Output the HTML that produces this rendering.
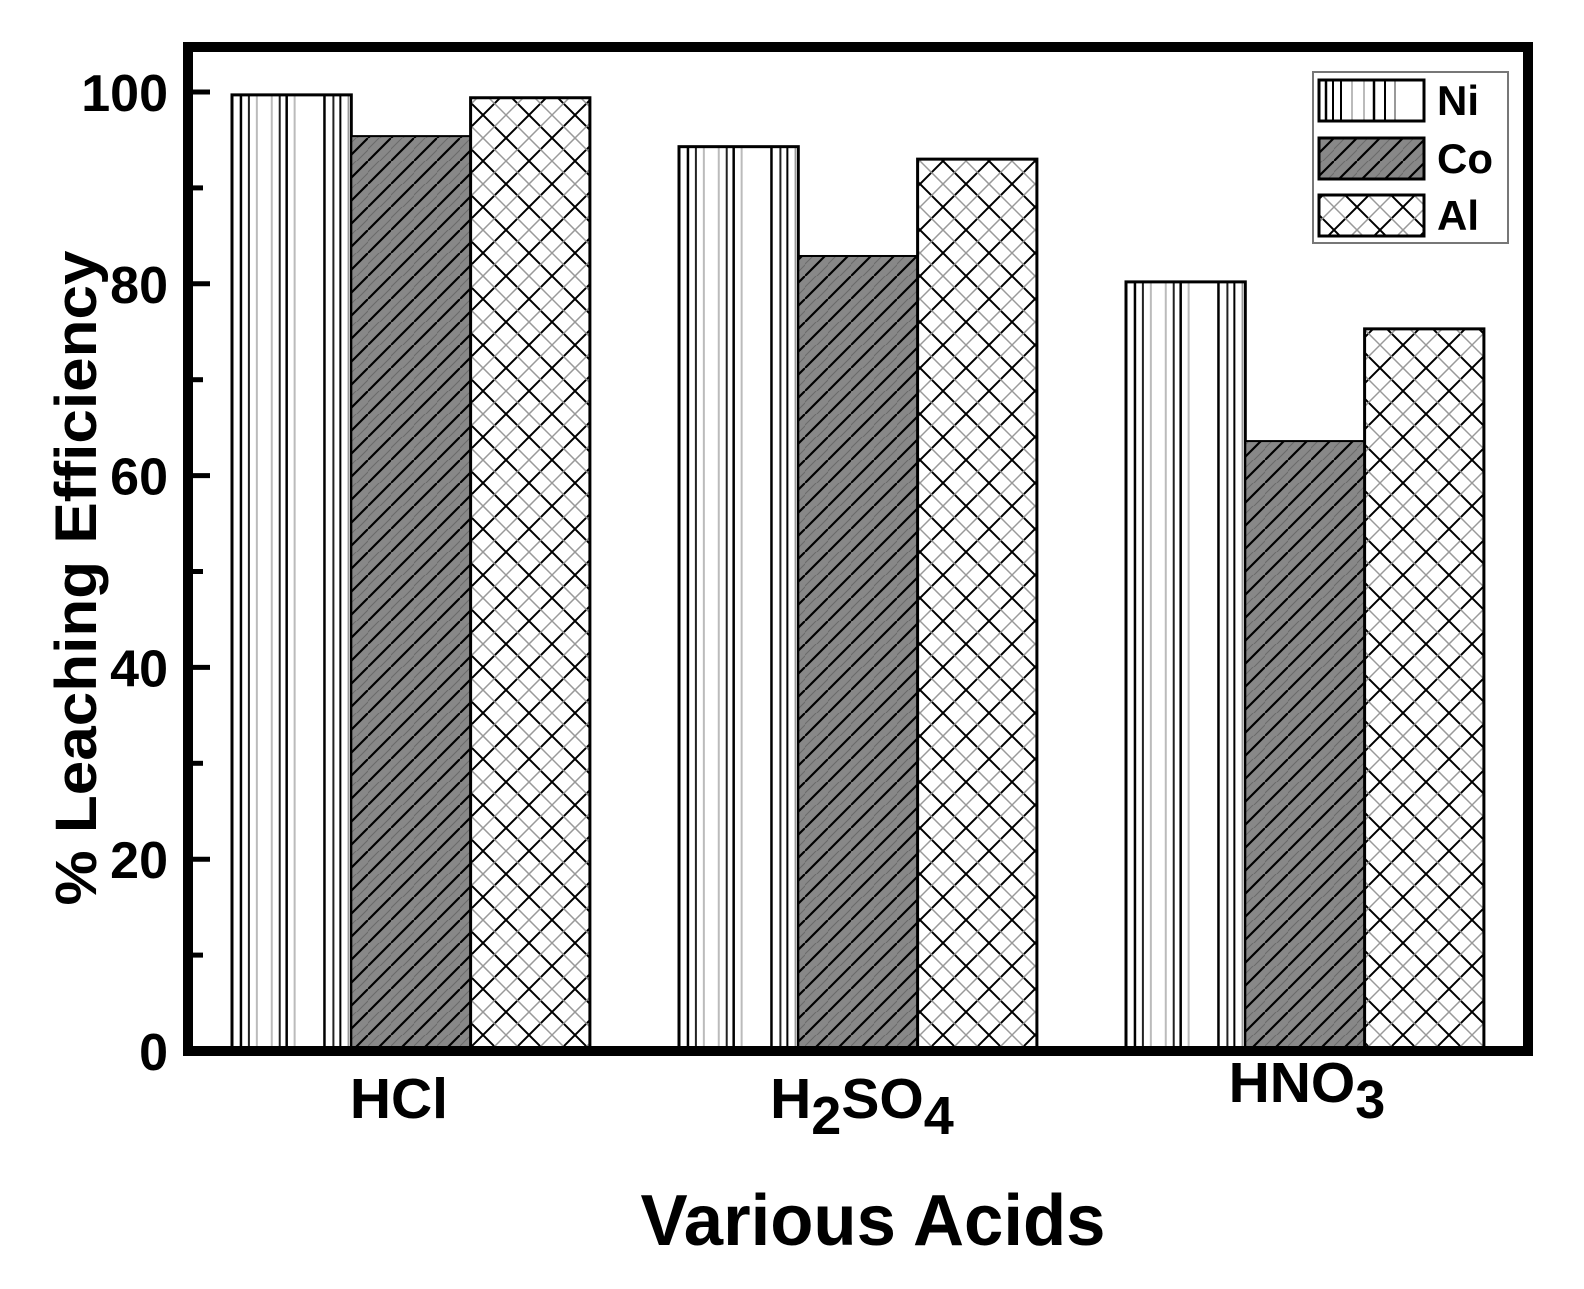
<!DOCTYPE html>
<html><head><meta charset="utf-8"><style>
html,body{margin:0;padding:0;background:#fff;}
svg{display:block;font-family:"Liberation Sans",Arial,sans-serif;font-weight:bold;}
</style></head><body>
<svg id="chart" width="1584" height="1289" viewBox="0 0 1584 1289" xmlns="http://www.w3.org/2000/svg">
<defs>
<pattern id="pCo" patternUnits="userSpaceOnUse" width="23" height="23">
<rect width="23" height="23" fill="#888"/>
<path d="M-2,25 L25,-2" stroke="#000" stroke-width="2.2"/>
<path d="M-13.5,13.5 L13.5,-13.5 M9.5,36.5 L36.5,9.5" stroke="#000" stroke-width="1"/>
<path d="M-8,19 L19,-8 M4,31 L31,4" stroke="#6a6a6a" stroke-width="1"/>
</pattern>
<pattern id="pAl" patternUnits="userSpaceOnUse" width="46" height="46">
<rect width="46" height="46" fill="#fff"/>
<path d="M0,0 L46,46 M-23,23 L23,69 M23,-23 L69,23 M0,46 L46,0 M-23,23 L23,-23 M23,69 L69,23" stroke="#000" stroke-width="2"/>
<path d="M-11.5,11.5 L34.5,57.5 M11.5,-11.5 L57.5,34.5 M-11.5,34.5 L34.5,-11.5 M11.5,57.5 L57.5,11.5" stroke="#999" stroke-width="1.5"/>
</pattern>
</defs>
<g id="bars"></g>
<g id="axes"></g>
<g id="legend"></g>
</svg>
<script>
const categories = ["HCl", "H2SO4", "HNO3"];
const seriesNames = ["Ni", "Co", "Al"];
const niValues = [99.7, 94.3, 80.2];
const coValues = [95.4, 82.9, 63.6];
const alValues = [99.4, 93.0, 75.3];
const yTicks = [0, 20, 40, 60, 80, 100];

const NS = "http://www.w3.org/2000/svg";
const plot = {left: 188, right: 1528, top: 47, bottom: 1051};
function yScale(v){ return 1051 - v * 9.59; }
const groupStart0 = 232, groupStep = 447, barW = 119.3;
function xScale(ci, si){ return groupStart0 + ci * groupStep + si * barW; }

function mk(tag, attrs, parent){
  const e = document.createElementNS(NS, tag);
  for (const k in attrs) e.setAttribute(k, attrs[k]);
  parent.appendChild(e);
  return e;
}
const svg = document.getElementById("chart");
const barsG = document.getElementById("bars");
const axesG = document.getElementById("axes");
const legG = document.getElementById("legend");

const niLines = [[9,"#000",2.5],[17,"#222",2],[25,"#bbb",2],[40,"#bbb",2],[48,"#222",2],[55,"#000",2.5],[63,"#bbb",2],[93,"#000",2.5],[102,"#222",2],[109,"#000",2],[117,"#999",1.5]];

function drawNi(g, x, y, w, h){
  mk("rect", {x:x, y:y, width:w, height:h, fill:"#fff"}, g);
  niLines.forEach(l => {
    const lx = x + l[0] * w / 120;
    mk("line", {x1:lx, y1:y, x2:lx, y2:y+h, stroke:l[1], "stroke-width":l[2]}, g);
  });
  mk("rect", {x:x, y:y, width:w, height:h, fill:"none", stroke:"#000", "stroke-width":3}, g);
}

const allSeries = [niValues, coValues, alValues];
allSeries.forEach((vals, si) => {
  vals.forEach((v, ci) => {
    const x = xScale(ci, si), y = yScale(v), h = yScale(0) - y;
    const g = mk("g", {}, barsG);
    
    
    if (si === 0) drawNi(g, x, y, barW, h);
    else {
      mk("rect", {x:x, y:y, width:barW, height:h, fill: si===1 ? "url(#pCo)" : "url(#pAl)", stroke:"#000", "stroke-width": si===1 ? 2 : 3}, g);
    }
  });
});

const frame = mk("rect", {x:plot.left, y:plot.top, width:plot.right-plot.left, height:plot.bottom-plot.top, fill:"none", stroke:"#000", "stroke-width":10}, axesG);



yTicks.forEach(t => {
  const y = yScale(t);
  const tk = mk("line", {x1:193, y1:y, x2:210, y2:y, stroke:"#000", "stroke-width":5}, axesG);
  
  
  const lb = mk("text", {x:168, y:y+19, "text-anchor":"end", "font-size":52}, axesG);
  lb.textContent = t;
  
  
});
for (let t = 10; t < 100; t += 20) {
  const y = yScale(t);
  const mt = mk("line", {x1:193, y1:y, x2:203, y2:y, stroke:"#000", "stroke-width":5}, axesG);
  
  
}

const subs = {"HCl":[["HCl",0]], "H2SO4":[["H",0],["2",1],["SO",0],["4",1]], "HNO3":[["HNO",0],["3",1]]};
const labelDx = [-12, 4, 2];
categories.forEach((c, ci) => {
  const cx = xScale(ci, 1) + barW/2 + labelDx[ci];
  const t = mk("text", {x:cx, y: ci===2 ? 1102 : 1118, "text-anchor":"middle", "font-size":57}, axesG);
  
  
  subs[c].forEach(p => {
    const s = document.createElementNS(NS, "tspan");
    s.textContent = p[0];
    if (p[1]) { s.setAttribute("dy", "16"); s.setAttribute("font-size", "54"); }
    else if (t.childNodes.length) { s.setAttribute("dy", "-16"); }
    t.appendChild(s);
  });
});

const xt = mk("text", {x:873, y:1245, "text-anchor":"middle", "font-size":72, textLength:465, lengthAdjust:"spacingAndGlyphs"}, axesG);
xt.textContent = "Various Acids";



const yt = mk("text", {x:0, y:0, "text-anchor":"middle", "font-size":58, transform:"translate(96,578) rotate(-90)", textLength:655, lengthAdjust:"spacingAndGlyphs"}, axesG);
yt.textContent = "% Leaching Efficiency";



const lb = mk("rect", {x:1313, y:72, width:195, height:171, fill:"#fff", stroke:"#777", "stroke-width":2}, legG);


const legY = [80, 138, 195];
seriesNames.forEach((n, i) => {
  const g = mk("g", {}, legG);
  
  
  if (i === 0) {
    mk("rect", {x:1319, y:legY[i], width:105, height:41, fill:"#fff"}, g);
    [[7,"#000",2.5],[14,"#000",2],[22,"#000",2],[33,"#bbb",2],[45,"#bbb",2],[55,"#000",2.5],[66,"#000",2],[76,"#999",2]].forEach(l => {
      mk("line", {x1:1319+l[0], y1:legY[i], x2:1319+l[0], y2:legY[i]+41, stroke:l[1], "stroke-width":l[2]}, g);
    });
    mk("rect", {x:1319, y:legY[i], width:105, height:41, fill:"none", stroke:"#000", "stroke-width":3}, g);
  } else {
    mk("rect", {x:1319, y:legY[i], width:105, height:41, fill: i===1 ? "url(#pCo)" : "url(#pAl)", stroke:"#000", "stroke-width":3}, g);
  }
  const t = mk("text", {x:1437, y:legY[i]+35, "font-size":42}, g);
  t.textContent = n;
});
</script>
</body></html>
